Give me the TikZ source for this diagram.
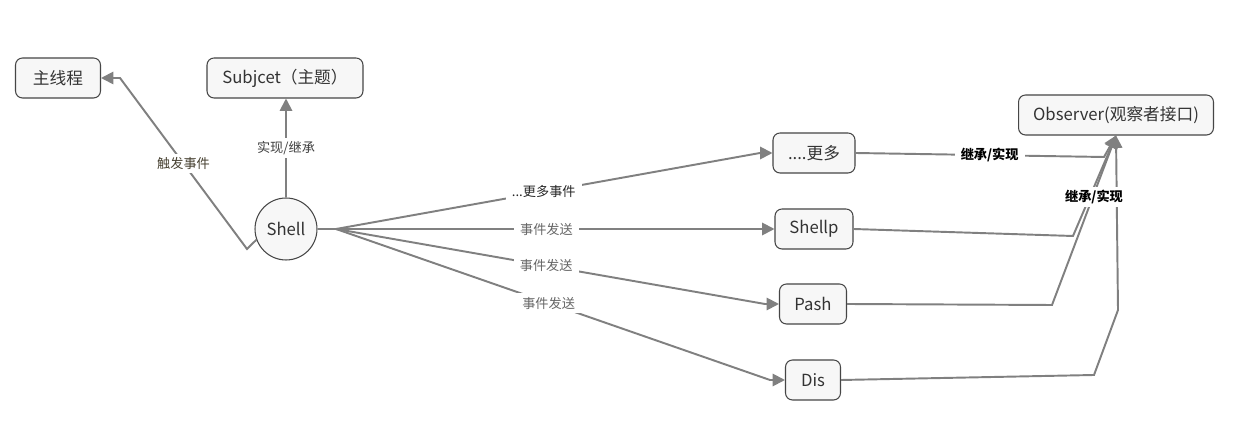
\documentclass[tikz,border=0pt]{standalone}
\usepackage{fontspec}
\setmainfont{Noto Sans CJK SC}
\usepackage{tikz}
\usetikzlibrary{positioning,arrows.meta}
\definecolor{linegray}{RGB}{128,128,128}
\definecolor{boxedge}{RGB}{70,70,70}
\definecolor{boxfill}{RGB}{247,247,247}
\definecolor{lbltext}{RGB}{70,64,48}

\begin{document}
\begin{tikzpicture}[x=0.02cm, y=-0.02cm,
    box/.style={draw=boxedge, fill=boxfill, rounded corners=4pt, line width=0.6pt,
        minimum height=0.8cm, inner sep=2pt, text=black!80, font=\fontsize{9.5}{11}\selectfont},
    conn/.style={draw=linegray, line width=1.1pt, -{Triangle[length=7pt, width=7pt]}},
    plain/.style={draw=linegray, line width=1.1pt},
    lbl/.style={fill=white, inner xsep=3.5pt, inner ysep=2pt, text=lbltext, font=\fontsize{7.5}{9}\selectfont},
    lblsend/.style={lbl, text=black!60},
    lblobs/.style={lbl, text=black, font=\fontsize{7.5}{9}\selectfont\bfseries}]

\fill[white] (0,0) rectangle (1254,431);
\useasboundingbox (0,0) rectangle (1254,431);

\node[box, minimum width=1.7cm] (mainth) at (58,78) {主线程};
\node[box, minimum width=3.12cm] (subj) at (285,78) {Subjcet（主题）};
\node[draw=boxedge, fill=boxfill, circle, line width=0.6pt, minimum size=1.24cm, inner sep=0pt,
    text=black!80, font=\fontsize{9.5}{11}\selectfont] (shell) at (286,229) {Shell};
\node[box, minimum width=3.9cm] (obs) at (1116,115) {Observer(观察者接口)};
\node[box, minimum width=1.64cm] (more) at (814,153) {....更多};
\node[box, minimum width=1.56cm] (shellp) at (814,229) {Shellp};
\node[box, minimum width=1.34cm] (pash) at (813,304) {Pash};
\node[box, minimum width=1.1cm] (dis) at (813,380) {Dis};

% shell up / left
\draw[conn] (shell.north) -- node[lbl, text=black!75] {实现/继承} (shell.north |- subj.south);
\draw[conn] (shell.200) -- (247,249) -- node[lbl, pos=0.5] {触发事件} (120,78) -- (mainth.east);

% events
\coordinate (fan) at (336,229);
\draw[plain] (shell.east) -- (fan);
\draw[conn] (fan) -- node[lbl, text=black!85, pos=0.49] {...更多事件} (760,153) -- (more.west);
\draw[conn] (fan) -- node[lblsend, pos=0.48] {事件发送} (shellp.west);
\draw[conn] (fan) -- node[lblsend, pos=0.49] {事件发送} (765,304) -- (pash.west);
\draw[conn] (fan) -- node[lblsend, pos=0.49] {事件发送} (770,380) -- (dis.west);

% observers
\draw[conn] (more.east) -- node[lblobs, pos=0.54] {继承/实现} (1104,157) -- (obs.south);
\draw[conn] (shellp.east) -- (1073,236) -- (obs.south);
\draw[conn] (pash.east) -- (1052,305) -- (obs.south);
\draw[conn] (dis.east) -- (1094,375) -- (1118,310) -- (obs.south);
\node[lblobs] (impl) at (1094,197) {继承/实现};

\end{tikzpicture}
\end{document}
